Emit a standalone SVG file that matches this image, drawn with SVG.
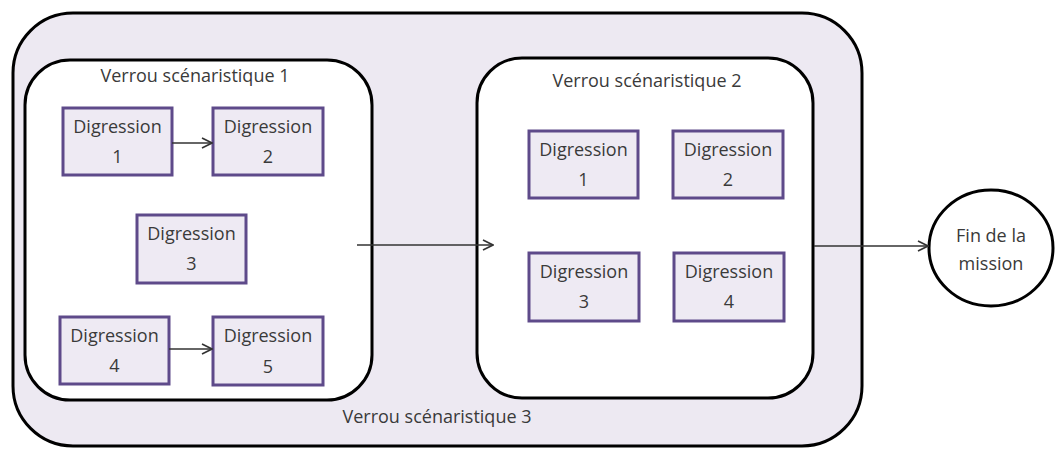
<svg xmlns="http://www.w3.org/2000/svg" width="1056" height="449" viewBox="0 0 1056 449">
<defs>
<style>
.lock{fill:#ffffff;stroke:#000;stroke-width:3}
.dg{fill:#EEEAF3;stroke:#5E4A8A;stroke-width:3}
.t{font-family:"Open Sans","Noto Sans",sans-serif;font-size:18px;fill:#3a3a3a;text-anchor:middle}
.c{fill:none;stroke:#333;stroke-width:1.6}
</style>
<marker id="ah" viewBox="0 0 12 12" refX="11" refY="6" markerWidth="12" markerHeight="12" markerUnits="userSpaceOnUse" orient="auto">
<path d="M1,1 L11,6 L1,11" fill="none" stroke="#333" stroke-width="1.6"/>
</marker>
</defs>
<rect width="1056" height="449" fill="#ffffff"/>
<g id="verrou3">
<rect x="13" y="13" width="849" height="433" rx="60" ry="60" fill="#EDE9F2" stroke="#000" stroke-width="3"/>
<text class="t" x="437" y="423">Verrou scénaristique 3</text>
</g>
<g id="verrou1">
<rect class="lock" x="25" y="60" width="347" height="340" rx="45" ry="45"/>
<text class="t" x="195" y="82">Verrou scénaristique 1</text>
</g>
<g id="verrou2">
<rect class="lock" x="477" y="58" width="336" height="340" rx="45" ry="45"/>
<text class="t" x="647" y="87">Verrou scénaristique 2</text>
</g>
<g id="v1-d1"><rect class="dg" x="63" y="108" width="109" height="67"/><text class="t" x="117.5" y="133">Digression</text><text class="t" x="117.5" y="163">1</text></g>
<g id="v1-d2"><rect class="dg" x="213" y="108" width="110" height="67"/><text class="t" x="268" y="133">Digression</text><text class="t" x="268" y="163">2</text></g>
<g id="v1-d3"><rect class="dg" x="137" y="215" width="109" height="68"/><text class="t" x="191.5" y="240">Digression</text><text class="t" x="191.5" y="270">3</text></g>
<g id="v1-d4"><rect class="dg" x="60" y="317" width="109" height="67"/><text class="t" x="114.5" y="342">Digression</text><text class="t" x="114.5" y="372">4</text></g>
<g id="v1-d5"><rect class="dg" x="213" y="317" width="110" height="68"/><text class="t" x="268" y="342">Digression</text><text class="t" x="268" y="373">5</text></g>
<g id="v2-d1"><rect class="dg" x="529" y="131" width="109" height="67"/><text class="t" x="583.5" y="156">Digression</text><text class="t" x="583.5" y="186">1</text></g>
<g id="v2-d2"><rect class="dg" x="673" y="131" width="110" height="67"/><text class="t" x="728" y="156">Digression</text><text class="t" x="728" y="186">2</text></g>
<g id="v2-d3"><rect class="dg" x="529" y="253" width="110" height="68"/><text class="t" x="584" y="278">Digression</text><text class="t" x="584" y="308">3</text></g>
<g id="v2-d4"><rect class="dg" x="674" y="253" width="110" height="68"/><text class="t" x="729" y="278">Digression</text><text class="t" x="729" y="308">4</text></g>
<g id="fin">
<ellipse cx="991" cy="248" rx="62" ry="58" fill="#ffffff" stroke="#000" stroke-width="3"/>
<text class="t" x="991" y="242">Fin de la</text>
<text class="t" x="991" y="270">mission</text>
</g>
<g id="connectors">
<line class="c" x1="172" y1="143" x2="212" y2="143" marker-end="url(#ah)"/>
<line class="c" x1="169" y1="349" x2="212" y2="349" marker-end="url(#ah)"/>
<line class="c" x1="357" y1="245" x2="493" y2="245" marker-end="url(#ah)"/>
<line class="c" x1="814" y1="246" x2="928" y2="246" marker-end="url(#ah)"/>
</g>
</svg>
